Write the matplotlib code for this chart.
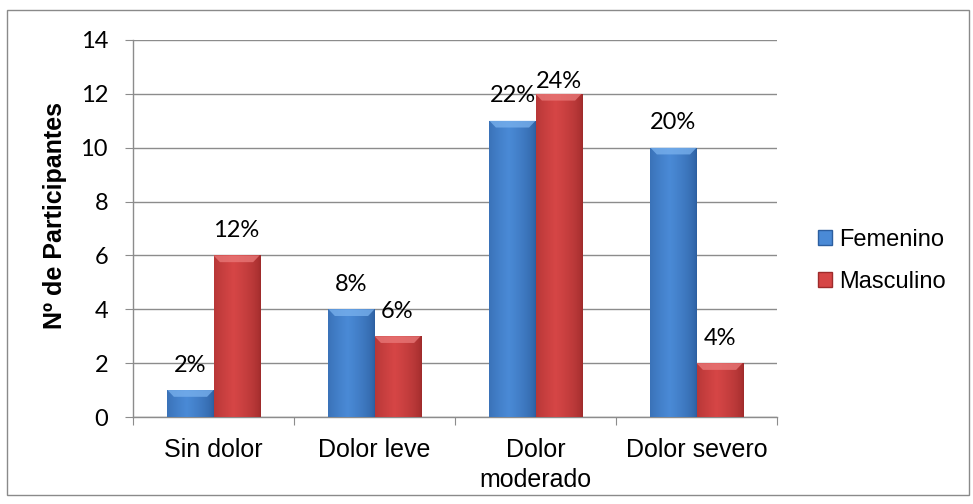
import numpy as np
import matplotlib
matplotlib.use('Agg')
import matplotlib.pyplot as plt
from matplotlib.patches import Rectangle, Polygon, Patch

categorias = ['Sin dolor', 'Dolor leve', 'Dolor\nmoderado', 'Dolor severo']
femenino = [1, 4, 11, 10]
masculino = [6, 3, 12, 2]
total = 50
yticks = [0, 2, 4, 6, 8, 10, 12, 14]

# colores: (borde oscuro, centro claro, bisel superior)
azul = ('#2c5e9f', '#4a8ad6', '#7ab2ee')
rojo = ('#9e2b2b', '#d64646', '#ea7a7a')

fig = plt.figure(figsize=(9.73, 5.04), dpi=100)
ax = fig.add_axes([133 / 973, 1 - 417 / 504, 644 / 973, 377 / 504])

gris = '#8c8c8c'
x = np.arange(len(categorias)) + 0.5
w = 0.286


def gradiente(c_borde, c_centro):
    a = np.array(matplotlib.colors.to_rgb(c_borde))
    b = np.array(matplotlib.colors.to_rgb(c_centro))
    t = np.linspace(0, 1, 64)
    k = np.clip(1 - np.abs(t - 0.42) / 0.58, 0, 1) ** 0.6
    img = a[None, :] + (b - a)[None, :] * k[:, None]
    return img[None, :, :]


def barra(x0, h, colores):
    rect = Rectangle((x0, 0), w, h, facecolor=colores[1], edgecolor='none', zorder=3)
    ax.add_patch(rect)
    im = ax.imshow(gradiente(colores[0], colores[1]), extent=(x0, x0 + w, 0, h),
                   aspect='auto', origin='lower', zorder=3.1)
    im.set_clip_path(rect)
    # bisel superior
    dx, dy = 0.04, 0.25
    bisel = Polygon([(x0, h), (x0 + w, h), (x0 + w - dx, h - dy), (x0 + dx, h - dy)],
                    closed=True, facecolor=colores[2], edgecolor='none', alpha=0.75, zorder=3.2)
    ax.add_patch(bisel)


for i in range(len(categorias)):
    barra(x[i] - w, femenino[i], azul)
    barra(x[i], masculino[i], rojo)
    for xc, v in [(x[i] - w / 2, femenino[i]), (x[i] + w / 2, masculino[i])]:
        # la etiqueta más alta queda más pegada a la barra
        off = 9 if v == max(femenino + masculino) else 18
        ax.annotate(f'{v / total:.0%}', (xc, v), xytext=(0, off), textcoords='offset points',
                    ha='center', va='center', fontsize=17, family='Lato', zorder=5)

ax.set_xlim(0, 4)
ax.set_ylim(0, 14)
ax.set_yticks(yticks)
ax.set_yticklabels([str(t) for t in yticks], fontsize=17, family='Lato')
ax.set_xticks(range(5))
ax.set_xticklabels([])
ax.set_xticks(x, minor=True)
ax.set_xticklabels(categorias, minor=True, fontsize=18, family='Liberation Sans', linespacing=1.35)
ax.tick_params(axis='x', which='minor', length=0, pad=15)
ax.tick_params(axis='x', which='major', length=6, color=gris, direction='out')
ax.tick_params(axis='y', length=6, color=gris, direction='out', pad=12)
ax.grid(axis='y', color=gris, lw=1, zorder=0)
ax.set_axisbelow(True)
for s in ['top', 'right']:
    ax.spines[s].set_visible(False)
for s in ['left', 'bottom']:
    ax.spines[s].set_color(gris)
    ax.spines[s].set_linewidth(1)

ax.set_ylabel('Nº de Participantes', fontsize=18, fontweight='bold', family='Liberation Sans')
ax.yaxis.set_label_coords(-0.103, 0.535)

handles = [Patch(facecolor=azul[1], edgecolor=azul[0], label='Femenino'),
           Patch(facecolor=rojo[1], edgecolor=rojo[0], label='Masculino')]
fig.legend(handles=handles, loc='center left', bbox_to_anchor=(797 / 973, 1 - 261 / 504),
           frameon=False, prop={'family': 'Liberation Sans', 'size': 17},
           handlelength=0.6, handleheight=0.6, handletextpad=0.3, labelspacing=0.85)

fig.patches.append(Rectangle((7 / 973, 1 - 495 / 504), 962 / 973, 485 / 504,
                             transform=fig.transFigure, fill=False, edgecolor='#8a8a8a', lw=1))

fig.savefig('out.png', dpi=100)
